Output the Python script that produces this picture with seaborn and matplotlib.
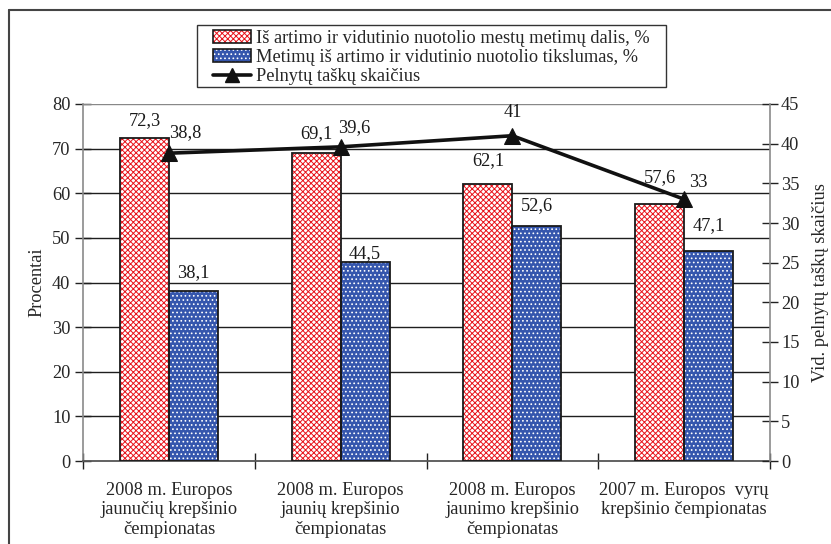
import matplotlib
matplotlib.use("Agg")
import matplotlib.pyplot as plt
from matplotlib.patches import Patch, Rectangle
from matplotlib.lines import Line2D
from matplotlib.legend_handler import HandlerTuple
from matplotlib.transforms import offset_copy
import seaborn as sns
import pandas as pd

categories = [
    "2008 m. Europos\njaunučių krepšinio\nčempionatas",
    "2008 m. Europos\njaunių krepšinio\nčempionatas",
    "2008 m. Europos\njaunimo krepšinio\nčempionatas",
    "2007 m. Europos  vyrų\nkrepšinio čempionatas",
]
share_name = "Iš artimo ir vidutinio nuotolio mestų metimų dalis, %"
accuracy_name = "Metimų iš artimo ir vidutinio nuotolio tikslumas, %"
points_name = "Pelnytų taškų skaičius"

share_values = [72.3, 69.1, 62.1, 57.6]
accuracy_values = [38.1, 44.5, 52.6, 47.1]
points_values = [38.8, 39.6, 41, 33]

left_ticks = list(range(0, 81, 10))
right_ticks = list(range(0, 46, 5))

# label placement (points above the bar top / offsets from line markers)
share_label_lift = [13, 14, 17, 19]
accuracy_label_lift = [13, 6, 15, 18]
points_label_shift = [(12, 15), (10, 14), (0, 17), (10, 12)]


def fmt(v):
    return (f"{v:g}").replace(".", ",")


FS = 13.2
OUTLINE = "#1a1a1a"
W, H = 831, 544

sns.set_theme(style="white")
plt.rcParams["font.family"] = ["Liberation Serif", "DejaVu Serif"]
plt.rcParams["hatch.linewidth"] = 0.7

df = pd.DataFrame({
    "cat": categories * 2,
    "series": [share_name] * 4 + [accuracy_name] * 4,
    "value": share_values + accuracy_values,
})

fig = plt.figure(figsize=(W / 100, H / 100), dpi=100)
ax = fig.add_axes([83 / W, 1 - 461 / H, (770 - 83) / W, (461 - 104) / H])

styles = {
    share_name: dict(face="white", hatch_col="#e8141c", hatch="xxxxxx"),
    accuracy_name: dict(face="#3556ad", hatch_col="white", hatch="...."),
}

sns.barplot(data=df, x="cat", y="value", hue="series", order=categories,
            hue_order=[share_name, accuracy_name], width=0.57, ax=ax,
            legend=False, saturation=1)

# hatch fill uses the edge colour, so each bar gets a separate dark outline
bars = list(ax.patches)
for i, p in enumerate(bars):
    st = styles[share_name] if i < 4 else styles[accuracy_name]
    p.set_facecolor(st["face"])
    p.set_hatch(st["hatch"])
    p.set_edgecolor(st["hatch_col"])
    p.set_linewidth(0)
    p.set_zorder(2)
    ax.add_patch(Rectangle(p.get_xy(), p.get_width(), p.get_height(),
                           fill=False, ec=OUTLINE, lw=1.3, zorder=3))

ax.set_ylim(0, 80)
ax.set_xlim(-0.5, 3.5)
ax.set_yticks(left_ticks)
ax.set_yticklabels([str(t) for t in left_ticks], fontsize=FS)
ax.set_xticks(range(4))
ax.set_xticklabels(categories, fontsize=FS, linespacing=1.2)
ax.set_xticks([-0.5, 0.5, 1.5, 2.5, 3.5], minor=True)
ax.tick_params(axis="x", which="major", length=0, pad=15)
ax.tick_params(axis="x", which="minor", direction="inout", length=12,
               width=1, color="#222222", bottom=True)
ax.tick_params(axis="y", direction="inout", length=12, width=1,
               color="#222222", left=True, pad=3)
ax.set_xlabel("")
ax.set_ylabel("Procentai", fontsize=FS, labelpad=5)
for yv in left_ticks[1:]:
    ax.axhline(yv, color="#1e1e1e" if yv < 80 else "#888888", lw=1, zorder=1)
for s in ["top", "right"]:
    ax.spines[s].set_visible(False)
ax.spines["left"].set_color("#8a8a8a")
ax.spines["bottom"].set_color("#555555")
ax.spines["left"].set_linewidth(1.2)
ax.spines["bottom"].set_linewidth(1.3)

# value labels on the bars
all_values = share_values + accuracy_values
all_lifts = share_label_lift + accuracy_label_lift
for p, v, lift in zip(bars, all_values, all_lifts):
    tr = offset_copy(ax.transData, fig=fig, x=0, y=lift, units="points")
    ax.text(p.get_x() + p.get_width() / 2, v, fmt(v), transform=tr,
            ha="center", va="center", fontsize=FS, color="#1a1a1a")

# points per game on the secondary axis
ax2 = ax.twinx()
ax2.set_position(ax.get_position())
sns.lineplot(x=list(range(4)), y=points_values, ax=ax2, color="#111111",
             lw=2.6, marker="^", markersize=11, markeredgecolor="#111111",
             legend=False, zorder=5)
ax2.set_ylim(0, 45)
ax2.set_yticks(right_ticks)
ax2.set_yticklabels([str(t) for t in right_ticks], fontsize=FS)
ax2.tick_params(axis="y", direction="inout", length=12, width=1,
                color="#222222", right=True, pad=2)
ax2.set_ylabel("Vid. pelnytų taškų skaičius", fontsize=FS, labelpad=9)
ax2.grid(False)
for s in ["top", "left", "bottom"]:
    ax2.spines[s].set_visible(False)
ax2.spines["right"].set_color("#8a8a8a")
ax2.spines["right"].set_linewidth(1.2)
for i, (v, (dx, dy)) in enumerate(zip(points_values, points_label_shift)):
    tr = offset_copy(ax2.transData, fig=fig, x=dx, y=dy, units="points")
    ax2.text(i, v, fmt(v), transform=tr, ha="center", va="center",
             fontsize=FS, color="#1a1a1a")


# legend: hatched swatch overlaid with a dark outline
def legend_swatch(st):
    fill = Patch(facecolor=st["face"], hatch=st["hatch"],
                 edgecolor=st["hatch_col"], lw=0)
    outline = Patch(facecolor="none", edgecolor=OUTLINE, lw=1.2)
    return (fill, outline)


handles = [
    legend_swatch(styles[share_name]),
    legend_swatch(styles[accuracy_name]),
    Line2D([], [], color="#111111", lw=2.6, marker="^", markersize=10),
]
leg = fig.legend(handles, [share_name, accuracy_name, points_name],
                 loc="upper left", bbox_to_anchor=(213 / W, 1 - 30 / H),
                 fontsize=FS, frameon=False, borderpad=0, labelspacing=0.12,
                 handlelength=2.05, handleheight=0.7, handletextpad=0.3,
                 borderaxespad=0,
                 handler_map={tuple: HandlerTuple(ndivide=1, pad=0)})

# legend box
fig.add_artist(Rectangle((197 / W, 1 - 87 / H), (666 - 197) / W, (87 - 25) / H,
                         transform=fig.transFigure, fill=False,
                         ec="#333333", lw=1.0))

# outer frame lines
frame_kw = dict(transform=fig.transFigure, color="#444444", lw=1.5)
fig.add_artist(Line2D([9 / W, 9 / W], [0, 1 - 10 / H], **frame_kw))
fig.add_artist(Line2D([9 / W, 1], [1 - 10 / H, 1 - 10 / H], **frame_kw))

fig.savefig("out.png", dpi=100)
